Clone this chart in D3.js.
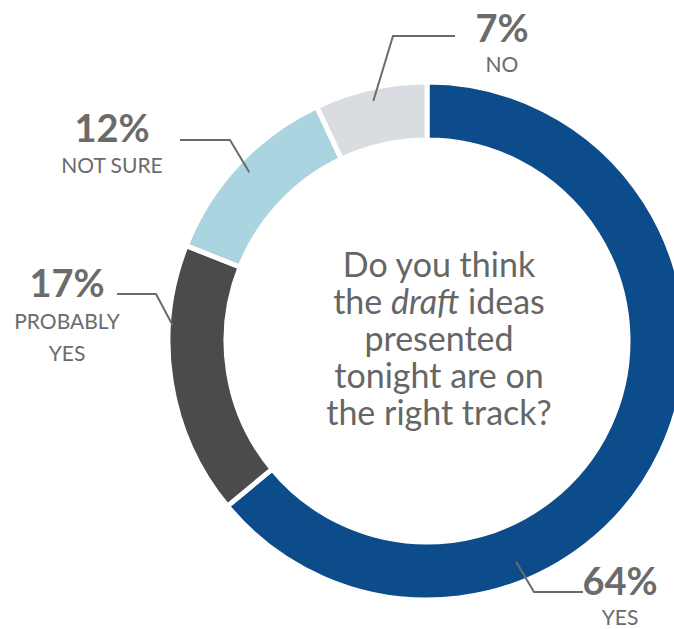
<!DOCTYPE html>
<html>
<head>
<meta charset="utf-8">
<script src="https://cdn.jsdelivr.net/npm/d3@7"></script>
<style>
  body { margin: 0; background: #fff; }
  svg { display: block; font-family: Lato, "Open Sans", sans-serif; }
</style>
</head>
<body>
<div id="chart"></div>
<script>
// survey answers, clockwise from 12 o'clock
const answers = ["YES", "PROBABLY YES", "NOT SURE", "NO"];
const shares = [64, 17, 12, 7];
const colors = ["#0d4c8b", "#4b4b4e", "#abd4e1", "#d9dce1"];

// question in the hole
const questionLines = [
  [{t: "Do you think"}],
  [{t: "the "}, {t: "draft", i: true}, {t: " ideas"}],
  [{t: "presented"}],
  [{t: "tonight are on"}],
  [{t: "the right track?"}]
];

// where each callout goes (layout only)
const callouts = [
  {angle: 158, r: 238, elbow: [534, 592], end: [583, 592], tx: 620, ty: 595, gap: 30, sub: ["YES"]},
  {angle: 273.6, r: 255, elbow: [156, 294], end: [117, 294], tx: 67, ty: 297, gap: 32, sub: ["PROBABLY", "YES"]},
  {angle: 313.5, r: 245, elbow: [230, 140], end: [180, 140], tx: 112, ty: 142, gap: 31, sub: ["NOT SURE"]},
  {angle: 347.4, r: 246, elbow: [393, 36], end: [455, 36], tx: 502, ty: 42, gap: 30, sub: ["NO"]}
];

const width = 674, height = 629;
const cx = 427, cy = 341;
const outerR = 259, innerR = 201;

const svg = d3.select("#chart").append("svg")
    .attr("width", width)
    .attr("height", height);

const pie = d3.pie().sort(null).value(d => d);
const arc = d3.arc().innerRadius(innerR).outerRadius(outerR);

const g = svg.append("g").attr("transform", `translate(${cx},${cy})`);

g.selectAll("path.slice")
  .data(pie(shares))
  .join("path")
    .attr("class", "slice")
    .attr("d", arc)
    .attr("fill", (d, i) => colors[i])
    .attr("stroke", "#fff")
    .attr("stroke-width", 5);

// leader lines + labels
const toRad = a => a * Math.PI / 180;
callouts.forEach((c, i) => {
  let sx = cx + c.r * Math.sin(toRad(c.angle));
  let sy = cy - c.r * Math.cos(toRad(c.angle));
  svg.append("polyline")
    .attr("points", [[sx, sy], c.elbow, c.end].map(p => p.join(",")).join(" "))
    .attr("fill", "none")
    .attr("stroke", "#6b6b6b")
    .attr("stroke-width", 2);

  svg.append("text")
    .attr("x", c.tx).attr("y", c.ty)
    .attr("text-anchor", "middle")
    .attr("font-size", 38)
    .attr("font-weight", "bold")
    .attr("fill", "#6b6b6b")
    .text(shares[i] + "%");

  c.sub.forEach((s, j) => {
    svg.append("text")
      .attr("x", c.tx).attr("y", c.ty + c.gap + j * 32)
      .attr("text-anchor", "middle")
      .attr("font-size", 21)
      .attr("fill", "#6b6b6b")
      .text(s);
  });
});

// the question
const q = svg.append("text")
    .attr("text-anchor", "middle")
    .attr("font-size", 34)
    .attr("fill", "#666");
questionLines.forEach((line, i) => {
  let tl = q.append("tspan").attr("x", 439).attr("y", 277 + i * 37);
  line.forEach(p => {
    tl.append("tspan")
      .attr("font-style", p.i ? "italic" : null)
      .text(p.t);
  });
});
</script>
</body>
</html>
